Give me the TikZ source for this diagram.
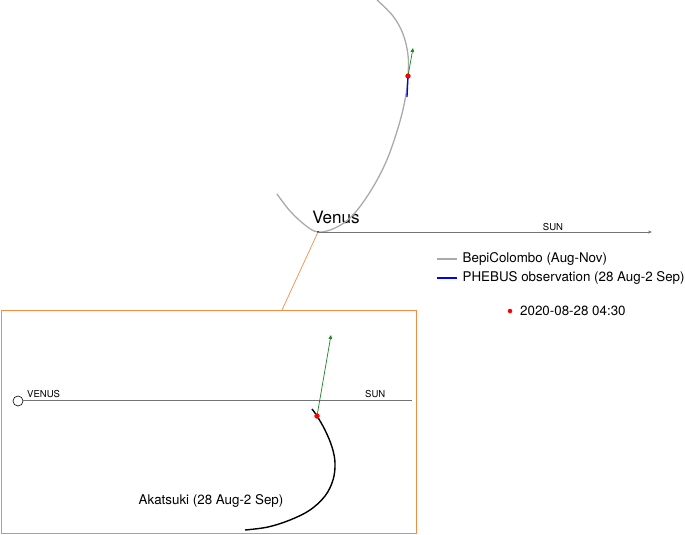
\documentclass[tikz,border=0pt]{standalone}
\usepackage{fontspec}
\setmainfont{TeX Gyre Heros}
\usetikzlibrary{arrows.meta}

\definecolor{orbitgray}{RGB}{170,170,170}
\definecolor{axisgray}{RGB}{115,115,115}
\definecolor{zoomorange}{RGB}{245,140,70}
\definecolor{velgreen}{RGB}{20,135,30}
\tikzset{
  orbit/.style={orbitgray, line width=1.3pt},
  sunline/.style={axisgray, line width=0.7pt},
  velocity/.style={velgreen, line width=0.7pt, -{Triangle[length=4pt,width=3.5pt]}},
  obsdot/.style={circle, fill=red, inner sep=0pt, minimum size=5pt},
  lbl/.style={font=\fontsize{13.3}{15}\selectfont, inner sep=0pt},
  small/.style={font=\fontsize{9.5}{11}\selectfont, inner sep=0pt}
}

\begin{document}
\begin{tikzpicture}[x=0.035cm, y=-0.035cm]
  \useasboundingbox (0,0) rectangle (685,534);

  %Define nodes
  \coordinate (venus) at (318,232);
  \coordinate (sun) at (652,232);
  \node[obsdot] (bepi) at (408,76) {};
  \coordinate (bepivel) at (413,48);
  \node[font=\fontsize{17}{19}\selectfont, inner sep=0pt] (venuslbl) at (336,217) {Venus};
  \node[small, anchor=base] (sunlbl) at (553,230) {SUN};

  % BepiColombo orbit
  \draw[orbit] plot[smooth, tension=0.6] coordinates {(277,194) (290,211) (305,225) (318,232) (335,228)
    (352,216) (370,192) (386,162) (398,128) (405,100) (408,76) (408,55) (403,34) (393,16) (377,0)};
  \draw[blue, line width=1.3pt] (bepi.center) -- (407,97);
  \fill (venus) circle (1pt);

  % Connect the nodes
  \draw[sunline, -{Stealth[length=4pt,width=3pt]}] (venus) -- (sun);
  \draw[velocity] (bepi.center) -- (bepivel);
  \node[obsdot] at (bepi) {};

  % Legend
  \coordinate (leg1) at (437,259);
  \coordinate (leg2) at (437,278);
  \draw[orbit] (leg1) -- ++(20,0) node[lbl, right=5pt, black] (legbepi) {BepiColombo (Aug-Nov)};
  \draw[blue, line width=1.3pt] (leg2) -- ++(20,0) node[lbl, right=5pt, black] (legphebus) {PHEBUS observation (28 Aug-2 Sep)};
  \node[obsdot, minimum size=4.5pt] (legdot) at (510,311) {};
  \node[lbl, anchor=west] (legtime) at (520,311) {2020-08-28 04:30};

  % Zoom box
  \node[draw=zoomorange, line width=0.9pt, minimum width=14.525cm, minimum height=7.805cm,
        inner sep=0pt, outer sep=0pt, anchor=north west] (zoombox) at (1,310) {};
  \coordinate (boxtop) at (282,310);
  \draw[zoomorange, line width=0.7pt] (venus) -- (boxtop);

  % Akatsuki view
  \node[draw, circle, inner sep=0pt, minimum size=10pt, line width=0.6pt] (venussmall) at (18,401) {};
  \coordinate (sunsmall) at (412,400);
  \draw[sunline] (23,400) -- (sunsmall);
  \node[small, anchor=base west] (venussmalllbl) at (27,397.5) {VENUS};
  \node[small, anchor=base west] (sunsmalllbl) at (365,397.5) {SUN};
  \node[obsdot] (akat) at (317,416) {};
  \coordinate (akatvel) at (331,335);
  \draw[black, line width=1.4pt] plot[smooth, tension=0.6] coordinates {(312,409) (317,416) (325,430)
    (332,447) (335,463) (333,480) (325,496) (310,510) (290,520) (268,527) (245,530)};
  \draw[velocity] (akat.center) -- (akatvel);
  \node[obsdot] at (akat) {};
  \node[lbl] (akatlbl) at (211,501) {Akatsuki (28 Aug-2 Sep)};
\end{tikzpicture}
\end{document}
